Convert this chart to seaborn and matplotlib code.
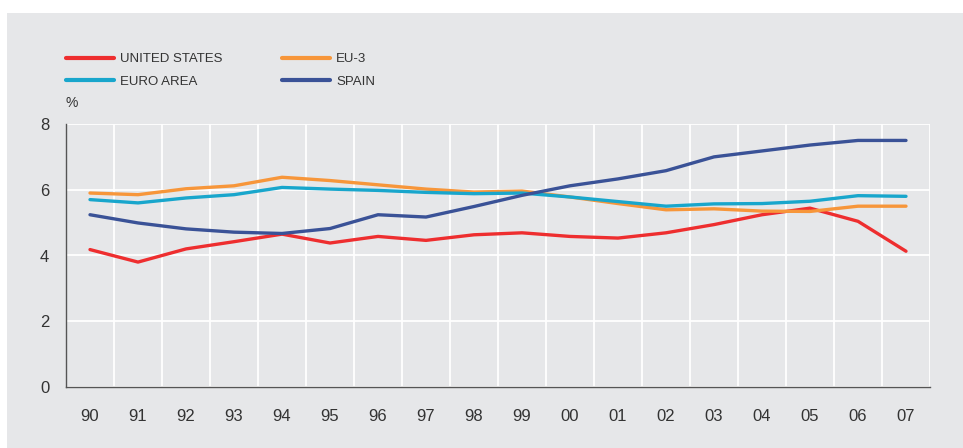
import numpy as np
import pandas as pd
import seaborn as sns
import matplotlib
matplotlib.use("Agg")
import matplotlib.pyplot as plt
from matplotlib.patches import Rectangle
from matplotlib.ticker import FixedLocator
from matplotlib.lines import Line2D

years = list(range(1990, 2008))
year_labels = ["90", "91", "92", "93", "94", "95", "96", "97", "98", "99",
               "00", "01", "02", "03", "04", "05", "06", "07"]
united_states = [4.18, 3.80, 4.20, 4.42, 4.65, 4.38, 4.58, 4.46, 4.63, 4.69,
                 4.58, 4.53, 4.69, 4.94, 5.24, 5.44, 5.04, 4.13]
eu3 = [5.90, 5.85, 6.03, 6.12, 6.38, 6.28, 6.15, 6.02, 5.93, 5.96,
       5.78, 5.58, 5.39, 5.42, 5.35, 5.34, 5.50, 5.50]
euro_area = [5.70, 5.60, 5.75, 5.85, 6.07, 6.02, 5.98, 5.92, 5.88, 5.90,
             5.78, 5.64, 5.50, 5.57, 5.58, 5.65, 5.82, 5.80]
spain = [5.24, 4.99, 4.81, 4.71, 4.67, 4.82, 5.24, 5.17, 5.49, 5.83,
         6.12, 6.33, 6.58, 7.00, 7.18, 7.36, 7.50, 7.50]
series_names = ["UNITED STATES", "EU-3", "EURO AREA", "SPAIN"]
colors = ["#EE2E2F", "#F7963A", "#18A6CC", "#3A5297"]

df = pd.concat([
    pd.DataFrame({"year": years, "value": vals, "series": name})
    for name, vals in zip(series_names, [united_states, eu3, euro_area, spain])
])

sns.set_theme(style="white")
plt.rcParams["font.family"] = ["Liberation Sans Narrow", "Liberation Sans", "DejaVu Sans"]

fig = plt.figure(figsize=(9.63, 4.48), dpi=100)
fig.patch.set_facecolor("white")
bg = "#E6E7E9"
fig.patches.append(Rectangle((7 / 963, 0), 1 - 7 / 963, 1 - 13 / 448,
                             transform=fig.transFigure, facecolor=bg,
                             edgecolor="none", zorder=-10))

ax = fig.add_axes([66 / 963, 1 - 387 / 448, (930 - 66) / 963, (387 - 124) / 448])
ax.set_facecolor(bg)

sns.lineplot(data=df, x="year", y="value", hue="series", hue_order=series_names,
             palette=colors, linewidth=2.4, ax=ax, legend=False)

ax.set_xlim(years[0] - 0.5, years[-1] + 0.5)
ax.set_ylim(0, 8)
ax.set_yticks([0, 2, 4, 6, 8])
ax.set_xticks(years)
ax.set_xticklabels(year_labels)
ax.xaxis.set_minor_locator(FixedLocator([y + 0.5 for y in years]))
ax.grid(False)
ax.grid(axis="x", which="minor", color="white", linewidth=1.3)
ax.grid(axis="y", which="major", color="white", linewidth=1.3)
ax.set_axisbelow(True)
ax.set_xlabel("")
ax.set_ylabel("")
for s in ["top", "right"]:
    ax.spines[s].set_visible(False)
for s in ["left", "bottom"]:
    ax.spines[s].set_color("#555555")
    ax.spines[s].set_linewidth(1.0)
ax.tick_params(axis="both", which="both", length=0, labelsize=12, colors="#333333")
ax.tick_params(axis="x", pad=16)
ax.tick_params(axis="y", pad=12)

handles = [Line2D([0], [0], color=c, linewidth=3) for c in colors]

leg_kw = dict(loc="upper left", frameon=False, fontsize=9.5, handlelength=3.6,
              handletextpad=0.5, labelspacing=0.8, borderpad=0, borderaxespad=0)
leg1 = fig.legend([handles[0], handles[2]], [series_names[0], series_names[2]],
                  bbox_to_anchor=(66 / 963, 1 - 53 / 448), **leg_kw)
leg2 = fig.legend([handles[1], handles[3]], [series_names[1], series_names[3]],
                  bbox_to_anchor=(282 / 963, 1 - 53 / 448), **leg_kw)
for leg in (leg1, leg2):
    for t in leg.get_texts():
        t.set_color("#333333")

fig.text(66 / 963, 1 - 103 / 448, "%", fontsize=10, color="#333333",
         ha="left", va="center")

fig.savefig("out.png", dpi=100, facecolor="white")
